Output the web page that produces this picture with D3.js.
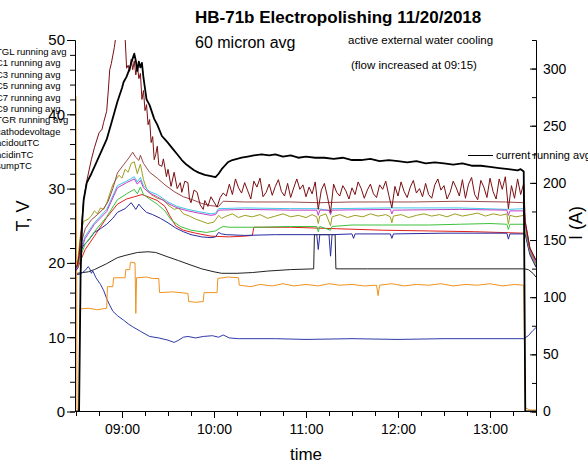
<!DOCTYPE html>
<html>
<head>
<meta charset="utf-8">
<script src="https://cdn.jsdelivr.net/npm/d3@7"></script>
<style>
  body { margin: 0; background: #fff; }
  svg { font-family: "Liberation Sans", Arial, sans-serif; display: block; }
</style>
</head>
<body>
<div id="chart"></div>
<script>
// ---- data (time, value) ----
var legendLabels = ["TGL running avg", "C1 running avg", "C3 running avg", "C5 running avg",
  "C7 running avg", "C9 running avg", "TGR running avg", "cathodevoltage",
  "acidoutTC", "acidinTC", "sumpTC"];

var hourTicks = ["09:00", "10:00", "11:00", "12:00", "13:00"];
var tTicks = [0, 10, 20, 30, 40, 50];
var iTicks = [0, 50, 100, 150, 200, 250, 300];

var tglAvg = [["08:30",19.3],["08:31",19.6],["08:33",22.3],["08:36",24.6],["08:40",25.8],["08:44",26.5],["08:48",27.3],["08:51",28.3],["08:54",30.0],["08:57",32.1],["09:01",33.2],["09:04",34.0],["09:07",34.9],["09:09",34.2],["09:11",33.8],["09:12",34.5],["09:14",33.4],["09:18",32.2],["09:23",31.4],["09:28",30.5],["09:34",29.6],["09:40",28.9],["09:46",28.5],["09:52",28.0],["09:58",27.7],["10:03",27.6],["10:06",28.3],["10:20",28.2],["10:50",28.2],["11:08",28.1],["11:30",28.2],["12:10",28.2],["12:40",28.3],["13:10",28.2],["13:22",28.1],["13:23",25.6],["13:26",22.0],["13:30",20.3]];

var c1Avg = [["08:30",19.0],["08:31",19.3],["08:33",21.5],["08:35",22.4],["08:38",23.0],["08:42",24.1],["08:46",24.6],["08:50",25.2],["08:54",26.0],["08:57",26.8],["09:02",27.3],["09:06",28.1],["09:08",27.5],["09:09",27.2],["09:11",27.9],["09:13",27.4],["09:16",26.8],["09:20",26.5],["09:25",26.0],["09:30",25.4],["09:35",24.7],["09:40",24.2],["09:45",23.8],["09:52",23.5],["09:58",23.4],["10:01",23.5],["10:03",24.1],["10:05",23.9],["10:08",23.8],["10:20",23.7],["10:40",23.8],["11:07",23.8],["11:08",21.8],["11:09",23.8],["11:15",23.8],["11:16",20.9],["11:17",23.8],["11:30",23.9],["11:31",23.3],["11:32",23.9],["11:55",23.9],["11:56",23.3],["11:57",23.9],["12:30",24.0],["13:11",24.0],["13:12",23.2],["13:13",23.9],["13:22",23.9],["13:23",23.8],["13:26",21.1],["13:30",19.4]];

var c3Avg = [["08:30",19.2],["08:31",19.6],["08:33",21.6],["08:36",23.3],["08:42",25.2],["08:50",26.9],["08:57",30.1],["09:03",30.8],["09:08",31.3],["09:10",30.6],["09:12",31.1],["09:14",30.1],["09:18",29.4],["09:23",28.9],["09:30",28.0],["09:36",27.4],["09:43",27.0],["09:50",26.7],["09:58",26.4],["10:01",26.5],["10:03",27.1],["10:20",27.2],["10:50",27.1],["11:07",27.1],["11:08",26.4],["11:09",27.1],["11:15",27.1],["11:16",26.5],["11:17",27.1],["11:55",27.2],["11:56",26.6],["11:57",27.1],["12:40",27.2],["13:11",27.1],["13:12",26.4],["13:13",27.0],["13:22",27.0],["13:23",25.0],["13:26",21.8],["13:30",20.0]];

var c5Avg = [["08:30",19.3],["08:31",19.7],["08:33",21.9],["08:36",23.6],["08:42",25.4],["08:50",27.2],["08:57",30.4],["09:03",31.0],["09:08",31.6],["09:10",30.9],["09:12",31.5],["09:14",30.4],["09:18",29.6],["09:23",29.2],["09:30",28.2],["09:36",27.6],["09:43",27.2],["09:50",26.9],["09:58",26.6],["10:01",26.7],["10:03",27.3],["10:20",27.4],["10:50",27.3],["11:08",27.3],["11:16",27.0],["11:17",27.3],["11:55",27.4],["12:40",27.4],["13:12",27.2],["13:22",27.3],["13:23",25.2],["13:26",22.0],["13:30",20.2]];

var c7Avg = [["08:30",19.3],["08:31",20.0],["08:33",24.0],["08:35",25.6],["08:38",25.9],["08:40",26.3],["08:42",27.0],["08:44",26.6],["08:46",27.4],["08:48",27.2],["08:50",28.0],["08:52",29.3],["08:54",30.5],["08:56",31.2],["08:58",31.8],["09:00",31.4],["09:02",32.6],["09:04",32.2],["09:06",33.4],["09:08",33.6],["09:10",32.0],["09:12",33.3],["09:14",31.2],["09:16",30.0],["09:19",29.2],["09:23",28.7],["09:27",28.5],["09:30",27.8],["09:34",27.2],["09:37",27.4],["09:40",26.6],["09:44",26.3],["09:48",25.9],["09:52",25.6],["09:56",25.3],["10:00",25.5],["10:03",26.4],["10:05",26.0],["10:08",26.3],["10:12",26.6],["10:16",26.1],["10:20",26.4],["10:25",26.2],["10:30",26.5],["10:35",26.0],["10:40",26.3],["10:45",26.6],["10:50",26.2],["10:55",26.4],["11:00",26.1],["11:04",26.5],["11:07",26.2],["11:08",25.3],["11:09",26.3],["11:13",26.6],["11:16",25.0],["11:17",26.2],["11:22",26.5],["11:27",26.1],["11:32",26.4],["11:37",26.2],["11:42",26.6],["11:47",26.3],["11:52",26.5],["11:55",26.2],["11:56",25.4],["11:57",26.3],["12:02",26.5],["12:07",26.1],["12:12",26.4],["12:17",26.6],["12:22",26.3],["12:27",26.5],["12:32",26.2],["12:37",26.6],["12:42",26.3],["12:47",26.5],["12:52",26.7],["12:57",26.3],["13:02",26.6],["13:07",26.4],["13:11",26.6],["13:12",25.2],["13:13",26.4],["13:17",26.2],["13:22",26.4],["13:23",25.0],["13:26",21.7],["13:30",19.9]];

var c9Avg = [["08:30",19.2],["08:31",19.4],["08:33",21.0],["08:36",22.5],["08:42",24.2],["08:50",26.2],["08:57",28.5],["09:03",29.3],["09:08",29.9],["09:10",29.3],["09:12",30.2],["09:14",29.2],["09:18",28.6],["09:23",27.9],["09:28",27.0],["09:32",25.8],["09:38",24.9],["09:45",24.4],["09:55",24.1],["10:01",24.3],["10:04",24.7],["10:06",24.9],["10:10",24.8],["10:30",24.8],["10:50",24.9],["11:07",24.9],["11:08",24.2],["11:09",24.9],["11:16",24.4],["11:17",24.9],["11:30",25.1],["11:50",25.1],["12:20",25.1],["12:40",25.2],["13:00",25.3],["13:11",25.2],["13:12",24.5],["13:13",25.2],["13:22",25.2],["13:23",24.3],["13:26",21.5],["13:30",19.7]];

var tgrAvg = [["08:30",19.0],["08:31",19.2],["08:33",20.3],["08:36",21.8],["08:42",23.6],["08:50",26.1],["08:57",27.9],["09:03",28.6],["09:08",28.9],["09:13",29.2],["09:17",28.9],["09:23",28.4],["09:28",27.6],["09:31",26.4],["09:35",25.0],["09:40",24.4],["09:48",24.0],["09:58",23.6],["10:10",23.5],["10:20",23.6],["10:25",23.7],["10:26",24.8],["10:50",24.8],["11:20",24.6],["11:50",24.4],["12:20",24.3],["12:50",24.2],["13:22",24.0],["13:23",24.0],["13:26",21.3],["13:30",19.5]];

var cathodeVoltage = [["08:30",42.4],["08:30:40",0.3],["08:32",0.3],["08:32:30",13.8],["08:38",13.9],["08:44",13.7],["08:50",13.9],["08:50:30",16.8],["08:54",16.8],["08:54:30",18.0],["09:02",18.0],["09:02:30",19.1],["09:05",19.1],["09:05:30",20.1],["09:08:30",20.0],["09:09",13.2],["09:09:30",18.0],["09:16",18.1],["09:20",17.9],["09:24",17.9],["09:24:30",16.0],["09:33",16.1],["09:43",15.9],["09:43:30",14.8],["09:48",14.7],["09:53",14.8],["09:53:30",16.0],["10:02",16.0],["10:02:30",17.9],["10:09",18.1],["10:16",18.0],["10:16:30",17.0],["10:24",16.8],["10:30",17.1],["10:38",16.9],["10:45",17.2],["10:52",16.9],["11:00",17.1],["11:08",16.9],["11:15",17.2],["11:22",17.0],["11:30",17.1],["11:38",16.9],["11:46",17.0],["11:47",15.6],["11:48",17.0],["11:56",17.2],["12:04",16.9],["12:12",17.1],["12:20",17.0],["12:28",17.2],["12:36",16.9],["12:44",17.1],["12:52",17.0],["13:00",17.2],["13:08",16.9],["13:16",17.1],["13:22",17.0],["13:23",0.5],["13:26",0.2],["13:30",0.2]];

var acidOutHead = [["08:30",19.4],["08:31",19.8],["08:32",21.0],["08:34",26.0],["08:35",28.5],["08:37",31.0],["08:40",33.9],["08:42",35.5],["08:45",37.5],["08:47",38.0],["08:48",38.9],["08:50",40.4],["08:51",43.0],["08:52",46.0],["08:53",46.8],["08:55",49.0],["08:56",50.5],["08:57",52.0],["09:01",52.0],["09:02",50.5],["09:03",46.2],["09:04",46.6],["09:05",45.8],["09:06",47.4],["09:07",46.0],["09:08",47.2],["09:09",45.3],["09:10",46.6],["09:11",44.8],["09:12",45.5],["09:13",42.0],["09:14",43.2],["09:15",40.5],["09:16",41.3],["09:17",38.6],["09:18",39.3],["09:19",36.2],["09:20",37.0],["09:21",33.9],["09:22",34.6],["09:23",35.7],["09:24",33.2],["09:26",33.0],["09:27",34.0],["09:29",31.6],["09:30",32.6],["09:32",30.3],["09:34",32.2],["09:36",30.0],["09:38",30.8],["09:39",29.5],["09:41",31.0],["09:43",30.8],["09:44",28.6],["09:45",28.1],["09:47",29.8],["09:49",29.5],["09:51",27.8],["09:53",27.2]];

// acidoutTC from 09:54 on, one reading every 2 minutes
var acidOutStart = "09:54";
var acidOutTail = [28.4,27.6,28.9,28.2,27.5,28.8,29.4,
  29.0,30.6,29.2,31.3,30.1,29.4,30.8,
  29.7,28.6,31.0,30.2,31.4,28.9,29.5,30.6,29.1,30.3,
  31.2,29.6,29.0,30.7,28.8,30.1,31.3,29.9,30.5,28.9,
  30.2,29.3,30.9,27.2,29.8,30.7,28.9,26.8,30.6,29.5,
  29.0,30.4,29.7,28.6,30.1,29.2,30.9,30.0,28.7,29.8,
  30.6,29.3,28.8,30.5,29.9,31.0,29.1,27.4,30.3,29.0,
  30.9,29.6,28.8,30.2,31.1,29.4,30.0,28.9,30.7,29.2,
  28.7,30.5,31.3,29.8,30.4,28.6,29.5,31.0,30.1,29.0,
  31.2,28.7,30.6,31.5,29.2,28.5,31.1,30.2,28.8,31.4,
  29.6,28.6,31.3,29.9,31.6,27.3,30.4,28.7,31.3,29.2,30.7];
var acidOutEnd = [["13:23",25.5],["13:26",22.0],["13:30",20.4]];

var acidIn = [["08:30",18.5],["08:31",18.6],["08:38",18.8],["08:42",19.1],["08:50",19.9],["08:57",20.7],["09:02",21.0],["09:10",21.4],["09:17",21.5],["09:22",21.4],["09:30",20.8],["09:37",20.3],["09:45",19.7],["09:52",19.2],["10:00",18.8],["10:05",18.6],["10:15",18.6],["10:25",18.7],["10:35",18.9],["10:50",19.1],["11:05",19.2],["11:05:30",23.8],["11:19",23.8],["11:19:30",19.2],["11:40",19.2],["12:30",19.2],["13:22",19.2],["13:25",19.1],["13:28",18.6],["13:30",18.1]];

var sump = [["08:30",18.4],["08:33",18.5],["08:36",19.0],["08:38",19.5],["08:39",19.2],["08:40",18.6],["08:41",18.9],["08:43",18.0],["08:46",17.1],["08:48",16.3],["08:50",15.2],["08:52",14.3],["08:54",13.5],["08:57",12.9],["09:01",12.3],["09:04",11.8],["09:07",11.4],["09:12",10.8],["09:18",10.1],["09:24",9.9],["09:30",9.6],["09:34",9.3],["09:37",9.6],["09:40",10.0],["09:43",10.1],["09:48",9.9],["09:53",10.1],["09:59",10.2],["10:03",10.0],["10:06",10.3],["10:10",9.9],["10:16",9.8],["10:40",9.8],["11:00",9.7],["11:30",9.8],["12:00",9.7],["12:30",9.8],["13:00",9.8],["13:22",9.8],["13:25",10.2],["13:28",10.9],["13:30",11.3]];

// current running avg, amps (right axis)
var currentAvg = [["08:30",0],["08:32",0],["08:33",120],["08:34",165],["08:35",185],["08:37",200],["08:40",208],["08:42",214],["08:46",226],["08:50",238],["08:53",252],["08:57",271],["09:00",283],["09:01",288],["09:03",293],["09:05",300],["09:06",305],["09:08",313],["09:09",307],["09:10",298],["09:11",306],["09:12",301],["09:13",305],["09:14",292],["09:16",273],["09:18",268],["09:21",256],["09:23",251],["09:26",241],["09:28",238],["09:30",235],["09:33",230],["09:36",225],["09:39",220],["09:42",216],["09:45",213],["09:47",211],["09:50",209],["09:54",207],["09:58",206],["10:01",205],["10:03",208],["10:05",212],["10:07",215],["10:09",218],["10:12",220],["10:15",221],["10:18",222],["10:22",223],["10:26",224],["10:31",225],["10:36",224],["10:40",225],["10:45",223],["10:50",224],["10:55",222],["11:00",223],["11:06",222],["11:12",222],["11:18",221],["11:24",222],["11:30",220],["11:36",220],["11:42",221],["11:48",219],["11:54",220],["12:00",219],["12:06",218],["12:12",219],["12:18",217],["12:24",218],["12:30",217],["12:36",216],["12:42",217],["12:48",215],["12:54",215],["13:00",214],["13:06",213],["13:12",212],["13:18",211],["13:20",212],["13:22",210],["13:23",0],["13:30",0]];

// ---- setup ----
var svgWidth = 588, svgHeight = 462;
var plotLeft = 76, plotRight = 536, plotTop = 40, plotBottom = 411;

var parseHM = d3.timeParse("%H:%M"), parseHMS = d3.timeParse("%H:%M:%S");
function pt(s) { return s.length > 5 ? parseHMS(s) : parseHM(s); }
function toPts(arr) { return arr.map(d => ({t: pt(d[0]), v: d[1]})); }

var acidOut = toPts(acidOutHead)
  .concat(acidOutTail.map((v, i) => ({t: d3.timeMinute.offset(pt(acidOutStart), 2 * i), v: v})))
  .concat(toPts(acidOutEnd));

var svg = d3.select("#chart").append("svg")
  .attr("width", svgWidth)
  .attr("height", svgHeight);

var x = d3.scaleTime().domain([pt("08:30"), pt("13:30")]).range([plotLeft, plotRight]);
var yT = d3.scaleLinear().domain([0, 50]).range([plotBottom + 0.5, plotTop]);
var yI = d3.scaleLinear().domain([0, 325]).range([plotBottom + 0.5, plotTop]);

svg.append("clipPath").attr("id", "plot")
  .append("rect")
  .attr("x", plotLeft - 1).attr("y", plotTop)
  .attr("width", plotRight - plotLeft + 1).attr("height", plotBottom - plotTop + 1);

var tempLine = d3.line().x(d => x(d.t)).y(d => yT(d.v));
var currLine = d3.line().x(d => x(d.t)).y(d => yI(d.v));

var series = [
  {data: toPts(acidIn), color: "#222222"},
  {data: toPts(sump), color: "#2e3aa8"},
  {data: toPts(cathodeVoltage), color: "#f0921e"},
  {data: toPts(tgrAvg), color: "#e0201c"},
  {data: toPts(c1Avg), color: "#2a2aa0"},
  {data: toPts(c9Avg), color: "#3cc23c"},
  {data: toPts(c7Avg), color: "#9e9e1e"},
  {data: toPts(c5Avg), color: "#40c6e6"},
  {data: toPts(c3Avg), color: "#c03cc4"},
  {data: toPts(tglAvg), color: "#9b4848"},
  {data: acidOut, color: "#7b0f12"}
];

var plot = svg.append("g").attr("clip-path", "url(#plot)");

series.forEach(function(s) {
  plot.append("path")
    .attr("d", tempLine(s.data))
    .attr("fill", "none")
    .attr("stroke", s.color)
    .attr("stroke-width", 1)
    .attr("stroke-linejoin", "round");
});

plot.append("path")
  .attr("d", currLine(toPts(currentAvg)))
  .attr("fill", "none")
  .attr("stroke", "#000")
  .attr("stroke-width", 1.8)
  .attr("stroke-linejoin", "round");

// ---- axes ----
function styleAxis(g, size) {
  g.attr("font-family", "Liberation Sans, Arial, sans-serif").attr("font-size", size);
  g.selectAll("path, line").attr("stroke", "#000");
  g.selectAll("text").attr("fill", "#000");
}

var xAxis = svg.append("g")
  .attr("transform", `translate(0, ${plotBottom})`)
  .call(d3.axisBottom(x)
    .ticks(d3.timeMinute.every(15))
    .tickSize(6)
    .tickSizeOuter(0)
    .tickPadding(7.5)
    .tickFormat(d => hourTicks.indexOf(d3.timeFormat("%H:%M")(d)) >= 0 ? d3.timeFormat("%H:%M")(d) : ""));
xAxis.selectAll(".tick line").attr("y2", d => d.getMinutes() === 0 ? 7 : 5);
styleAxis(xAxis, 14);

var yMinor = svg.append("g")
  .attr("transform", `translate(${plotLeft - 1}, 0)`)
  .call(d3.axisLeft(yT).tickValues(d3.range(0, 51, 2)).tickSize(5).tickSizeOuter(0).tickFormat(""));
styleAxis(yMinor, 14);
var yMajor = svg.append("g")
  .attr("transform", `translate(${plotLeft - 1}, 0)`)
  .call(d3.axisLeft(yT).tickValues(tTicks).tickSize(8).tickSizeOuter(0).tickPadding(2));
styleAxis(yMajor, 15);

var iMinor = svg.append("g")
  .attr("transform", `translate(${plotRight}, 0)`)
  .call(d3.axisRight(yI).tickValues(d3.range(0, 326, 25)).tickSize(-4).tickSizeOuter(0).tickFormat(""));
styleAxis(iMinor, 14);
var iMajor = svg.append("g")
  .attr("transform", `translate(${plotRight}, 0)`)
  .call(d3.axisRight(yI).tickValues(iTicks).tickSize(-6).tickSizeOuter(0).tickPadding(7));
styleAxis(iMajor, 14);

// ---- texts ----
svg.append("text")
  .attr("x", 195).attr("y", 23)
  .attr("font-size", 17).attr("font-weight", "bold")
  .text("HB-71b Electropolishing 11/20/2018");

svg.append("text")
  .attr("x", 195).attr("y", 48)
  .attr("font-size", 16)
  .text("60 micron avg");

svg.append("text")
  .attr("x", 348).attr("y", 44)
  .attr("font-size", 11.5)
  .text("active external water cooling");

svg.append("text")
  .attr("x", 351).attr("y", 69)
  .attr("font-size", 11.5)
  .text("(flow increased at 09:15)");

svg.append("line")
  .attr("x1", 468).attr("x2", 493).attr("y1", 155.5).attr("y2", 155.5)
  .attr("stroke", "#000").attr("stroke-width", 1);
svg.append("text")
  .attr("x", 496).attr("y", 159)
  .attr("font-size", 11)
  .text("current running avg");

svg.append("text")
  .attr("transform", "translate(28.5, 216) rotate(-90)")
  .attr("text-anchor", "middle")
  .attr("font-size", 18)
  .text("T, V");

svg.append("text")
  .attr("transform", "translate(582, 223) rotate(-90)")
  .attr("text-anchor", "middle")
  .attr("font-size", 18)
  .text("I (A)");

svg.append("text")
  .attr("x", 306).attr("y", 460)
  .attr("text-anchor", "middle")
  .attr("font-size", 17)
  .text("time");

// legend (cut off at the left edge, as in the original)
svg.append("g").selectAll("text")
  .data(legendLabels)
  .enter()
  .append("text")
  .attr("x", -4)
  .attr("y", (d, i) => 55 + i * 11.4)
  .attr("font-size", 9.5)
  .text(d => d);
</script>
</body>
</html>
